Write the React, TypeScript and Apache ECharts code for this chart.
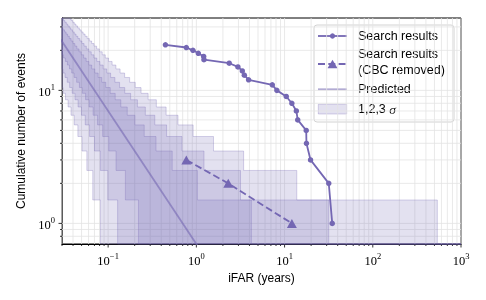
import React, { useEffect, useRef } from 'react';
import * as echarts from 'echarts';

// ---------- data ----------
// Search results: iFAR (years) vs cumulative number of events
const SEARCH_X = [0.446, 0.77, 0.915, 1.053, 1.21, 1.22, 2.36, 2.96, 3.32, 3.5, 3.91, 7.26, 8.18, 10.45, 12.1, 13.6, 14.1, 17.6, 17.7, 19.7, 31.7, 34.7];
const SEARCH_N = [22, 21, 20, 19, 18, 17, 16, 15, 14, 13, 12, 11, 10, 9, 8, 7, 6, 5, 4, 3, 2, 1];
// Search results with CBC removed
const CBC_X = [0.77, 2.3, 12.1];
const CBC_N = [3, 2, 1];
// Predicted background line
const PRED_X = [0.02, 1.4];
const PRED_N = [35, 0.5];

// Band staircases: [x where level starts, level], ascending x
const UPPER_1S = [[0.02965, 29.5], [0.03078, 28.5], [0.03201, 27.5], [0.03333, 26.5], [0.03477, 25.5], [0.03634, 24.5], [0.03803, 23.5], [0.0399, 22.5], [0.04196, 21.5], [0.04423, 20.5], [0.04676, 19.5], [0.04958, 18.5], [0.05275, 17.5], [0.05635, 16.5], [0.06043, 15.5], [0.06516, 14.5], [0.07063, 13.5], [0.07707, 12.5], [0.08476, 11.5], [0.09407, 10.5], [0.1056, 9.5], [0.1202, 8.5], [0.1392, 7.5], [0.1647, 6.5], [0.2011, 5.5], [0.2564, 4.5], [0.349, 3.5], [0.5326, 2.5], [1.028, 1.5], [4.208, 0.5]];
const UPPER_2S = [[0.0291, 35.5], [0.0301, 34.5], [0.03117, 33.5], [0.03231, 32.5], [0.03354, 31.5], [0.03485, 30.5], [0.03628, 29.5], [0.03781, 28.5], [0.03948, 27.5], [0.04129, 26.5], [0.04326, 25.5], [0.04543, 24.5], [0.04781, 23.5], [0.05043, 22.5], [0.05335, 21.5], [0.0566, 20.5], [0.06026, 19.5], [0.06437, 18.5], [0.06905, 17.5], [0.07442, 16.5], [0.08062, 15.5], [0.08788, 14.5], [0.09645, 13.5], [0.1067, 12.5], [0.1193, 11.5], [0.1348, 10.5], [0.1542, 9.5], [0.1799, 8.5], [0.2147, 7.5], [0.264, 6.5], [0.3381, 5.5], [0.4599, 4.5], [0.6881, 3.5], [1.221, 2.5], [3.165, 1.5], [31.65, 0.5]];
const UPPER_3S = [[0.03534, 35.5], [0.03667, 34.5], [0.03811, 33.5], [0.03963, 32.5], [0.0413, 31.5], [0.04309, 30.5], [0.04503, 29.5], [0.04715, 28.5], [0.04946, 27.5], [0.05199, 26.5], [0.05477, 25.5], [0.05783, 24.5], [0.06124, 23.5], [0.06502, 22.5], [0.06926, 21.5], [0.07405, 20.5], [0.07948, 19.5], [0.08568, 18.5], [0.09282, 17.5], [0.1011, 16.5], [0.1109, 15.5], [0.1225, 14.5], [0.1366, 13.5], [0.1538, 12.5], [0.1753, 11.5], [0.2029, 10.5], [0.2361, 9.5], [0.284, 8.5], [0.352, 7.5], [0.4542, 6.5], [0.6195, 5.5], [0.9192, 4.5], [1.565, 3.5], [3.434, 2.5], [13.76, 1.5], [539.2, 0.5]];
const LOWER_1S = [[0.0298, 18.5], [0.03122, 17.5], [0.03279, 16.5], [0.03454, 15.5], [0.03648, 14.5], [0.03867, 13.5], [0.04115, 12.5], [0.04398, 11.5], [0.04724, 10.5], [0.05101, 9.5], [0.05553, 8.5], [0.06092, 7.5], [0.0676, 6.5], [0.07596, 5.5], [0.08685, 4.5], [0.1016, 3.5], [0.123, 2.5], [0.1569, 1.5], [0.2206, 0.5]];
const LOWER_2S = [[0.02917, 14.5], [0.03072, 13.5], [0.03244, 12.5], [0.0344, 11.5], [0.03663, 10.5], [0.03918, 9.5], [0.04215, 8.5], [0.04567, 7.5], [0.0499, 6.5], [0.05507, 5.5], [0.06159, 4.5], [0.07006, 3.5], [0.08178, 2.5], [0.09907, 1.5], [0.1281, 0.5]];
const LOWER_3S = [[0.02897, 10.5], [0.03083, 9.5], [0.03285, 8.5], [0.0352, 7.5], [0.03798, 6.5], [0.04132, 5.5], [0.04542, 4.5], [0.05059, 3.5], [0.05741, 2.5], [0.06698, 1.5], [0.0818, 0.5]];

// Axis ticks
const X_MAJOR = [0.1, 1, 10, 100, 1000];
const X_MINOR = [0.03, 0.04, 0.05, 0.06, 0.07, 0.08, 0.09, 0.2, 0.3, 0.4, 0.5, 0.6, 0.7, 0.8, 0.9, 2, 3, 4, 5, 6, 7, 8, 9, 20, 30, 40, 50, 60, 70, 80, 90, 200, 300, 400, 500, 600, 700, 800, 900];
const Y_MAJOR = [1, 10];
const Y_MINOR = [0.8, 0.9, 2, 3, 4, 5, 6, 7, 8, 9, 20, 30];

const X_MIN = 0.03, X_MAX = 1000, Y_MIN = 0.7, Y_MAX = 35;
const X_LEFT = 0.02, X_RIGHT = 3000;

// ---------- styles ----------
const PURPLE = '#7467b3';
const BAND_FILL = 'rgba(116,103,179,0.2)';
const BAND_EDGE = 'rgba(116,103,179,0.32)';
const PRED_COLOR = 'rgba(116,103,179,0.6)';
const GRID_COLOR = '#e3e3e3';
const SANS = '"Liberation Sans", Arial, sans-serif';
const SERIF = '"Liberation Serif", "Times New Roman", serif';

function stairs(steps: number[][], api: any): number[][] {
  const pts: number[][] = [];
  for (let i = 0; i < steps.length; i++) {
    const x0 = i === 0 ? X_LEFT : steps[i][0];
    const x1 = i + 1 < steps.length ? steps[i + 1][0] : X_RIGHT;
    pts.push(api.coord([x0, steps[i][1]]), api.coord([x1, steps[i][1]]));
  }
  return pts;
}

function bandSeries(lower: number[][], upper: number[][]) {
  return {
    type: 'custom',
    silent: true,
    z: 2,
    data: [[1, 1]],
    renderItem: (params: any, api: any) => {
      const cs = params.coordSys;
      const pts = stairs(upper, api).concat(stairs(lower, api).reverse());
      const clamped = pts.map((p) => [
        Math.min(Math.max(p[0], cs.x), cs.x + cs.width),
        Math.min(Math.max(p[1], cs.y), cs.y + cs.height),
      ]);
      return {
        type: 'polygon',
        shape: { points: clamped },
        style: { fill: BAND_FILL, stroke: BAND_EDGE, lineWidth: 0.9 },
      };
    },
  };
}

function expLabel(v: number): string {
  const l = Math.log10(v);
  const e = Math.round(l);
  if (Math.abs(l - e) > 1e-6) return '';
  const s = e < 0 ? '\u2212' + -e : String(e);
  return `{b|10}{s|${s}}`;
}

const LABEL_RICH = {
  b: { fontFamily: SERIF, fontSize: 12.5, lineHeight: 16, verticalAlign: 'bottom', color: '#000' },
  s: { fontFamily: SERIF, fontSize: 8.5, lineHeight: 9, verticalAlign: 'top', color: '#000' },
};

export default function App() {
  const ref = useRef<HTMLDivElement>(null);
  useEffect(() => {
    const chart = echarts.init(ref.current!, null, { renderer: 'svg' });
    const xGridData = X_MAJOR.map((v) => [v, 1, 1]).concat(X_MINOR.map((v) => [v, 1, 0]));
    const yGridData = Y_MAJOR.map((v) => [1, v, 1]).concat(Y_MINOR.map((v) => [1, v, 0]));

    const option: any = {
      animation: false,
      textStyle: { fontFamily: SANS },
      grid: { left: 62, right: 25, top: 18, bottom: 56, show: true, borderColor: '#000', borderWidth: 1, backgroundColor: 'rgba(0,0,0,0)' },
      xAxis: {
        type: 'log', logBase: 10, min: X_MIN, max: X_MAX,
        axisLine: { show: true, lineStyle: { color: '#000', width: 1 } },
        axisTick: { show: false }, splitLine: { show: false },
        axisLabel: { formatter: expLabel, rich: LABEL_RICH, margin: 7, showMinLabel: true, showMaxLabel: true },
        name: 'iFAR (years)', nameLocation: 'middle', nameGap: 26,
        nameTextStyle: { fontFamily: SANS, fontSize: 12, color: '#000' },
      },
      yAxis: {
        type: 'log', logBase: 10, min: Y_MIN, max: Y_MAX,
        axisLine: { show: true, lineStyle: { color: '#000', width: 1 } },
        axisTick: { show: false }, splitLine: { show: false },
        axisLabel: { formatter: expLabel, rich: LABEL_RICH, margin: 7 },
        name: 'Cumulative number of events', nameLocation: 'middle', nameGap: 34,
        nameTextStyle: { fontFamily: SANS, fontSize: 12, color: '#000' },
      },
      series: [
        {
          type: 'custom', silent: true, z: 1, data: xGridData,
          renderItem: (params: any, api: any) => {
            const cs = params.coordSys;
            const x = api.coord([api.value(0), 1])[0];
            const major = api.value(2) === 1;
            const b = cs.y + cs.height;
            return {
              type: 'group',
              children: [
                { type: 'line', shape: { x1: x, y1: cs.y, x2: x, y2: b }, style: { stroke: GRID_COLOR, lineWidth: 0.8 } },
                { type: 'line', shape: { x1: x, y1: b, x2: x, y2: b + (major ? 3.5 : 2) }, style: { stroke: '#000', lineWidth: 0.8 } },
              ],
            };
          },
        },
        {
          type: 'custom', silent: true, z: 1, data: yGridData,
          renderItem: (params: any, api: any) => {
            const cs = params.coordSys;
            const y = api.coord([1, api.value(1)])[1];
            const major = api.value(2) === 1;
            return {
              type: 'group',
              children: [
                { type: 'line', shape: { x1: cs.x, y1: y, x2: cs.x + cs.width, y2: y }, style: { stroke: GRID_COLOR, lineWidth: 0.8 } },
                { type: 'line', shape: { x1: cs.x, y1: y, x2: cs.x - (major ? 3.5 : 2), y2: y }, style: { stroke: '#000', lineWidth: 0.8 } },
              ],
            };
          },
        },
        bandSeries(LOWER_3S, UPPER_3S),
        bandSeries(LOWER_2S, UPPER_2S),
        bandSeries(LOWER_1S, UPPER_1S),
        {
          type: 'line', z: 4, silent: true, showSymbol: false, symbol: 'none',
          data: PRED_X.map((x, i) => [x, PRED_N[i]]),
          lineStyle: { color: PRED_COLOR, width: 1.8 },
        },
        {
          type: 'line', z: 5, silent: true, symbol: 'circle', symbolSize: 5.5,
          data: SEARCH_X.map((x, i) => [x, SEARCH_N[i]]),
          lineStyle: { color: PURPLE, width: 1.8 }, itemStyle: { color: PURPLE },
        },
        {
          type: 'line', z: 5, silent: true, symbol: 'triangle', symbolSize: [10, 9],
          data: CBC_X.map((x, i) => [x, CBC_N[i]]),
          lineStyle: { color: PURPLE, width: 1.8, type: [7, 3.3] }, itemStyle: { color: PURPLE },
        },
      ],
      graphic: [
        {
          type: 'group', z: 100, silent: true,
          children: [
            { type: 'rect', shape: { x: 314, y: 25, width: 140, height: 97, r: 3 }, style: { fill: 'rgba(255,255,255,0.85)', stroke: '#d2d2d2', lineWidth: 1 } },
            { type: 'line', shape: { x1: 318, y1: 36, x2: 347, y2: 36 }, style: { stroke: PURPLE, lineWidth: 1.8 } },
            { type: 'circle', shape: { cx: 332.5, cy: 36, r: 2.7 }, style: { fill: PURPLE } },
            { type: 'text', x: 358, y: 36, style: { text: 'Search results', fontFamily: SANS, fontSize: 12.5, fill: '#000', verticalAlign: 'middle', align: 'left' } },
            { type: 'line', shape: { x1: 318, y1: 64, x2: 347, y2: 64 }, style: { stroke: PURPLE, lineWidth: 1.8, lineDash: [7, 3.3] } },
            { type: 'polygon', shape: { points: [[327.5, 68.3], [337.5, 68.3], [332.5, 59.8]] }, style: { fill: PURPLE } },
            { type: 'text', x: 358, y: 53.5, style: { text: 'Search results', fontFamily: SANS, fontSize: 12.5, fill: '#000', verticalAlign: 'middle', align: 'left' } },
            { type: 'text', x: 358, y: 69.5, style: { text: '(CBC removed)', fontFamily: SANS, fontSize: 12.5, fill: '#000', verticalAlign: 'middle', align: 'left' } },
            { type: 'line', shape: { x1: 318, y1: 89.3, x2: 347, y2: 89.3 }, style: { stroke: PRED_COLOR, lineWidth: 1.8 } },
            { type: 'text', x: 358, y: 89.3, style: { text: 'Predicted', fontFamily: SANS, fontSize: 12.5, fill: '#000', verticalAlign: 'middle', align: 'left' } },
            { type: 'rect', shape: { x: 318.3, y: 104.3, width: 28.4, height: 9.7 }, style: { fill: BAND_FILL, stroke: BAND_EDGE, lineWidth: 0.9 } },
            {
              type: 'text', x: 358, y: 109.3,
              style: {
                text: '1,2,3 {s|\u03c3}', fontFamily: SANS, fontSize: 12.5, fill: '#000', verticalAlign: 'middle', align: 'left',
                rich: { s: { fontFamily: SERIF, fontStyle: 'italic', fontSize: 13.5, fill: '#000' } },
              },
            },
          ],
        },
      ],
    };
    chart.setOption(option);
    return () => chart.dispose();
  }, []);
  return <div ref={ref} style={{ position: 'fixed', left: 0, top: 0, width: 486, height: 300 }} />;
}
